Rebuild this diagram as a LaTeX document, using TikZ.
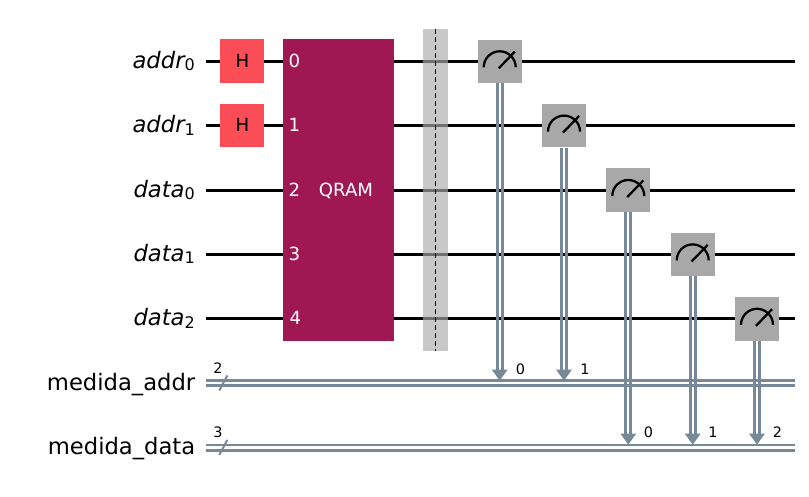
\documentclass[tikz,border=0pt]{standalone}
\usepackage{fontspec}
\setmainfont{DejaVu Sans}
\usetikzlibrary{calc}
\definecolor{clcol}{HTML}{778899}
\definecolor{hcol}{HTML}{FA4D56}
\definecolor{qcol}{HTML}{9F1853}
\definecolor{mcol}{HTML}{A8A8A8}
\definecolor{bcol}{HTML}{ABABAB}
\tikzset{
  wire/.style={draw=black,line width=2pt},
  clwire/.style={draw=clcol,line width=2.1pt},
  gatebox/.style={rectangle,inner sep=0pt,minimum width=33pt,minimum height=32.6pt},
  hgate/.style={gatebox,fill=hcol},
  mgate/.style={gatebox,fill=mcol},
  qgate/.style={rectangle,inner sep=0pt,fill=qcol,minimum width=83.2pt,minimum height=226.5pt},
  barrierbox/.style={rectangle,inner sep=0pt,fill=bcol,fill opacity=0.65,minimum width=18.7pt,minimum height=241.5pt},
  regname/.style={anchor=base east,inner sep=0pt,font=\fontsize{17}{20}\selectfont},
  gatetext/.style={anchor=base,inner sep=0pt,font=\fontsize{13.6}{16}\selectfont},
  smalltext/.style={anchor=base,inner sep=0pt,font=\fontsize{10.8}{12}\selectfont},
  needle/.style={draw=black,line width=1.7pt},
  tip/.style={fill=clcol,draw=none}
}
\newcommand{\qreg}[2]{{\itshape #1}\raisebox{-1.9pt}{\fontsize{12}{12}\selectfont #2}}
\newcommand{\clh}[2]{%
  \draw[clwire] ([yshift=1.9pt]#1) -- ([yshift=1.9pt]#2);
  \draw[clwire] ([yshift=-1.9pt]#1) -- ([yshift=-1.9pt]#2);}
\newcommand{\clv}[2]{%
  \draw[clwire] ([xshift=-1.9pt]#1) -- ([xshift=-1.9pt,yshift=6pt]#2);
  \draw[clwire] ([xshift=1.9pt]#1) -- ([xshift=1.9pt,yshift=6pt]#2);
  \fill[tip] (#2) -- ++(-6pt,8.3pt) -- ++(12pt,0pt) -- cycle;}
\newcommand{\meter}[1]{%
  \draw[needle] ($(#1)+(-12pt,-4.5pt)$) arc[start angle=180,end angle=0,radius=12pt];
  \draw[needle] ($(#1)+(-0.8pt,-5.3pt)$) -- ($(#1)+(11.3pt,7.2pt)$);}
\begin{document}
\begin{tikzpicture}[x=0.75pt,y=-0.75pt]
\useasboundingbox (0,0) rectangle (809,496);
% wire end points
\foreach \n/\y in {0/61.3,1/125.6,2/190.3,3/254.4,4/318.8}{
  \coordinate (ws\n) at (206,\y);
  \coordinate (we\n) at (795,\y);
}
\coordinate (cas) at (206,383.2);
\coordinate (cae) at (795,383.2);
\coordinate (cds) at (206,447.6);
\coordinate (cde) at (795,447.6);
\foreach \n in {0,...,4}{\draw[wire] (ws\n) -- (we\n);}
\clh{cas}{cae}
\clh{cds}{cde}
% register names
\node[regname] (naddr0) at (195,68.3) {\qreg{addr}{0}};
\node[regname] (naddr1) at (195,132.6) {\qreg{addr}{1}};
\node[regname] (ndata0) at (195,197) {\qreg{data}{0}};
\node[regname] (ndata1) at (195,261.4) {\qreg{data}{1}};
\node[regname] (ndata2) at (195,325.8) {\qreg{data}{2}};
\node[regname] (nma) at (195.5,390) {medida\_addr};
\node[regname] (nmd) at (195.5,454.4) {medida\_data};
% register sizes
\node[smalltext] (s2) at (218,373) {2};
\node[smalltext] (s3) at (218,437.4) {3};
\coordinate (sl0a) at (219.3,390.5);
\coordinate (sl0b) at (227.3,375.5);
\coordinate (sl1a) at (219.3,454.9);
\coordinate (sl1b) at (227.3,439.9);
\draw[draw=clcol,line width=1.5pt] (sl0a) -- (sl0b);
\draw[draw=clcol,line width=1.5pt] (sl1a) -- (sl1b);
% H gates
\node[hgate] (h0) at (242,61.0) {};
\node[hgate] (h1) at (242,125.6) {};
\node[gatetext] (th0) at (242.5,67.4) {H};
\node[gatetext] (th1) at (242.5,131.7) {H};
% QRAM
\node[qgate] (q) at (338.5,190) {};
\node[gatetext,text=white] (q0) at (294.5,67.4) {0};
\node[gatetext,text=white] (q1) at (294.5,131.7) {1};
\node[gatetext,text=white] (q2) at (294.5,196.1) {2};
\node[gatetext,text=white] (q3) at (294.5,260.5) {3};
\node[gatetext,text=white] (q4) at (295.5,324.9) {4};
\node[gatetext,text=white] (qn) at (346,196.1) {QRAM};
% barrier
\node[barrierbox] (b) at (435.5,190) {};
\draw[draw=black,line width=1.1pt,dash pattern=on 4.2pt off 1.8pt] (b.north) -- (b.south);
% measures
\foreach \n/\x/\y in {0/499.7/61.3,1/564/125.6,2/628.3/190,3/692.7/254.4,4/757/318.8}{
  \node[mgate] (m\n) at (\x,\y) {};
  \meter{m\n}
}
\coordinate (t0) at (499.7,380.6);
\coordinate (t1) at (564,380.6);
\coordinate (t2) at (628.3,444.6);
\coordinate (t3) at (692.7,444.6);
\coordinate (t4) at (757,444.6);
\clv{m0.south}{t0}
\clv{m1.south}{t1}
\clv{m2.south}{t2}
\clv{m3.south}{t3}
\clv{m4.south}{t4}
\node[smalltext] (b0) at (520.5,374) {0};
\node[smalltext] (b1) at (585,374) {1};
\node[smalltext] (b2) at (648.5,437.4) {0};
\node[smalltext] (b3) at (713,437.4) {1};
\node[smalltext] (b4) at (777.5,437.4) {2};
\end{tikzpicture}
\end{document}
